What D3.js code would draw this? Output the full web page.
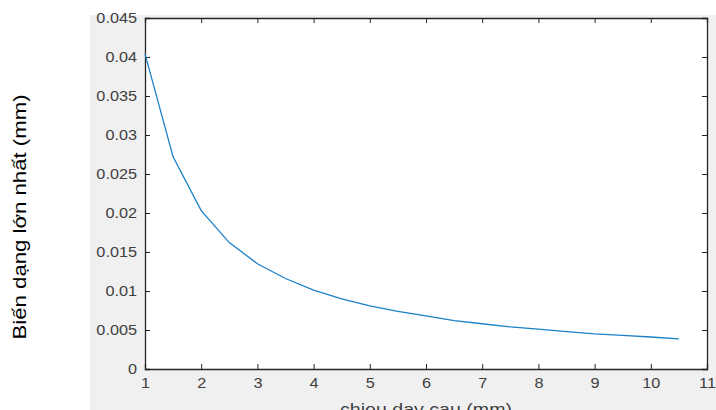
<!DOCTYPE html>
<html>
<head>
<meta charset="utf-8">
<script src="https://cdn.jsdelivr.net/npm/d3@7"></script>
<style>
body{margin:0;background:#fff;}
svg{display:block;font-family:"Liberation Sans",Arial,sans-serif;}
</style>
</head>
<body>
<svg id="chart" width="716" height="410"></svg>
<script>
// chieu day cau (mm) vs bien dang lon nhat (mm)
var thickness=[1,1.5,2,2.5,3,3.5,4,4.5,5,5.5,6,6.5,7,7.5,8,8.5,9,9.5,10,10.5];
var deform=[0.0404,0.0272,0.0203,0.0162,0.0135,0.0116,0.0101,0.0090,0.0081,0.0074,0.0068,0.0062,0.0058,0.0054,0.0051,0.0048,0.0045,0.0043,0.0041,0.00385];
var xTicks=[1,2,3,4,5,6,7,8,9,10,11];
var yTicks=[0,0.005,0.01,0.015,0.02,0.025,0.03,0.035,0.04,0.045];

var plotL=145,plotR=707,plotT=18,plotB=369;
var svg=d3.select("#chart");
svg.append("rect").attr("x",90).attr("y",15).attr("width",626).attr("height",395).attr("fill","#f0f0f0");
svg.append("rect").attr("x",plotL).attr("y",plotT).attr("width",plotR-plotL).attr("height",plotB-plotT).attr("fill","#ffffff");

var x=d3.scaleLinear().domain([1,11]).range([plotL,plotR]);
var y=d3.scaleLinear().domain([0,0.045]).range([plotB,plotT]);

var fmt=function(d){return d==0?"0":String(+d.toFixed(3));};

var gx=svg.append("g").attr("transform","translate(0,"+plotB+")")
  .call(d3.axisBottom(x).tickValues(xTicks).tickSize(-5).tickPadding(9).tickFormat(d3.format("d")));
var gxt=svg.append("g").attr("transform","translate(0,"+plotT+")")
  .call(d3.axisTop(x).tickValues(xTicks).tickSize(-5).tickFormat(""));
var gy=svg.append("g").attr("transform","translate("+plotL+",0)")
  .call(d3.axisLeft(y).tickValues(yTicks).tickSize(-5).tickPadding(8).tickFormat(fmt));
var gyr=svg.append("g").attr("transform","translate("+plotR+",0)")
  .call(d3.axisRight(y).tickValues(yTicks).tickSize(-5).tickFormat(""));

[gx,gxt,gy,gyr].forEach(function(g){
  g.attr("font-size",14).attr("font-family","Liberation Sans, Arial, sans-serif");
  g.select(".domain").attr("stroke","#262626").attr("stroke-width",1.3);
  g.selectAll(".tick line").attr("stroke","#262626");
  g.selectAll(".tick text").attr("fill","#404040").each(function(){
    // the reference text is a little wider than the font
    var w=this.getComputedTextLength();
    d3.select(this).attr("textLength",w*1.16).attr("lengthAdjust","spacingAndGlyphs");
  });
});

svg.append("path").datum(thickness.map(function(d,i){return [d,deform[i]];}))
  .attr("fill","none").attr("stroke","#1a80c8").attr("stroke-width",1.3)
  .attr("d",d3.line().x(function(d){return x(d[0]);}).y(function(d){return y(d[1]);}));

svg.append("text").attr("x",426).attr("y",415).attr("text-anchor","middle")
  .attr("font-size","17px").attr("fill","#404040")
  .attr("textLength",172).attr("lengthAdjust","spacingAndGlyphs").text("chieu day cau (mm)");

svg.append("text").attr("transform","translate(26,217) rotate(-90)").attr("text-anchor","middle")
  .attr("font-size","19px").attr("fill","#000")
  .attr("textLength",245).attr("lengthAdjust","spacingAndGlyphs").text("Biến dạng lớn nhất (mm)");
</script>
</body>
</html>
